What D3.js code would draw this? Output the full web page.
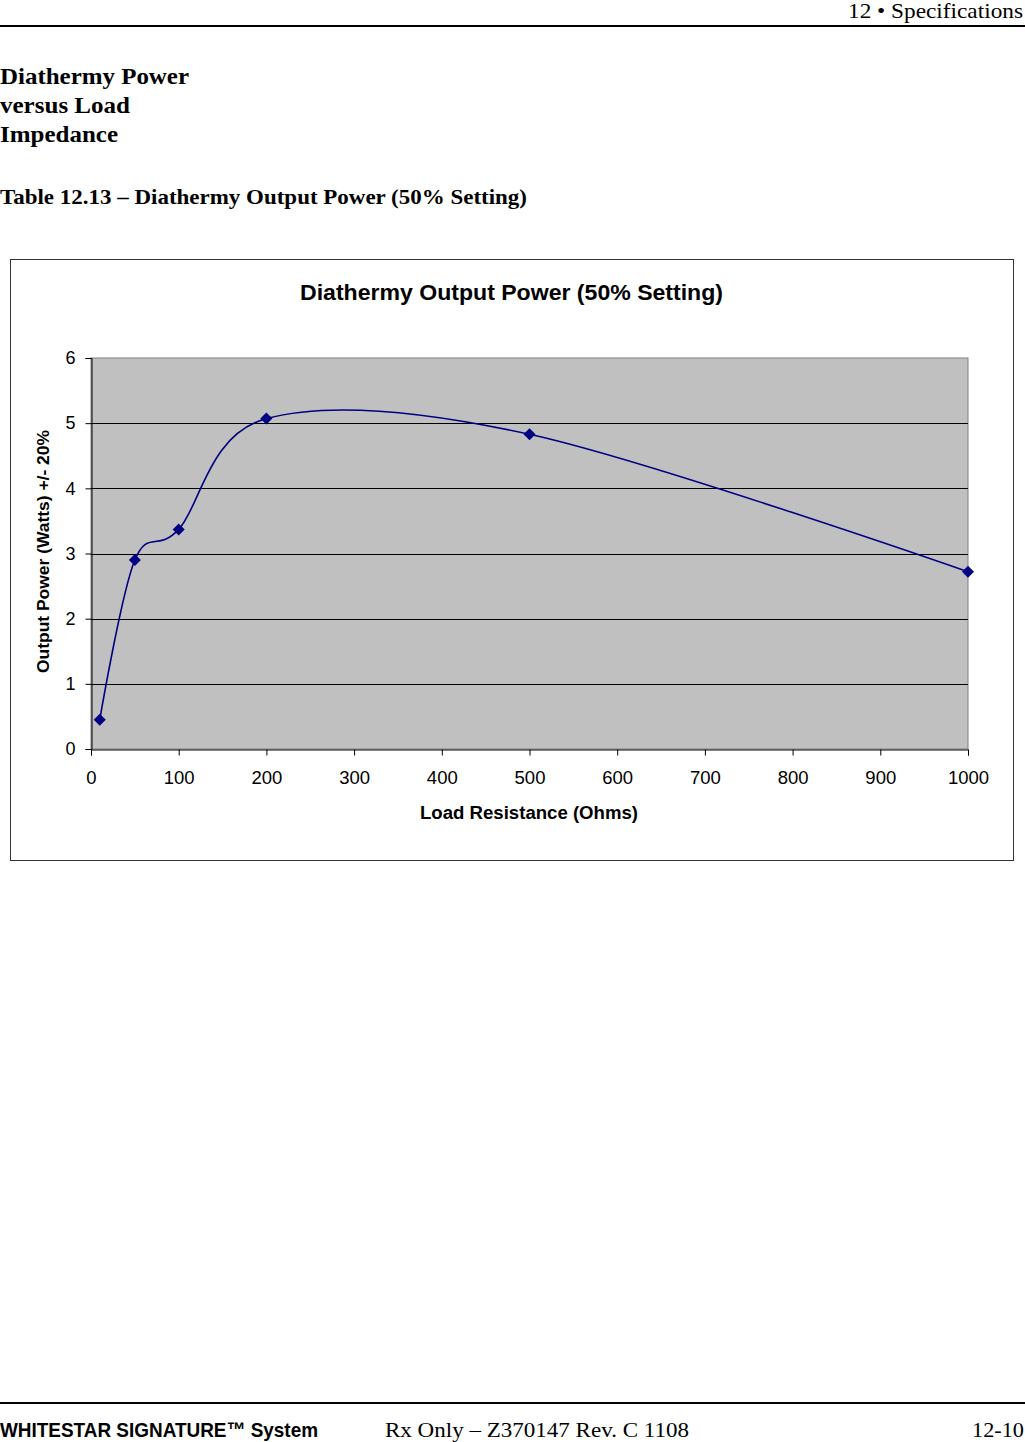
<!DOCTYPE html>
<html><head><meta charset="utf-8">
<script src="https://cdn.jsdelivr.net/npm/d3@7"></script>
<style>
html,body{margin:0;padding:0;background:#fff;}
svg{display:block;}
</style></head>
<body>
<svg id="c" width="1025" height="1442"></svg>
<script>
const loads = [10, 50, 100, 200, 500, 1000];
const powers = [0.45, 2.90, 3.37, 5.07, 4.83, 2.72];
const xTicks = [0, 100, 200, 300, 400, 500, 600, 700, 800, 900, 1000];
const yTicks = [0, 1, 2, 3, 4, 5, 6];

const svg = d3.select("#c");
const serif = "'Liberation Serif','Times New Roman',serif";
const sans = "'Liberation Sans',Arial,sans-serif";

function txt(xp, yp, s, opts) {
  const t = svg.append("text").attr("x", xp).attr("y", yp)
    .attr("font-family", opts.family).attr("font-size", opts.size).text(s);
  if (opts.bold) t.attr("font-weight", "bold");
  if (opts.anchor) t.attr("text-anchor", opts.anchor);
  if (opts.len) t.attr("textLength", opts.len).attr("lengthAdjust", "spacingAndGlyphs");
  return t;
}

// Header
txt(1023, 18, "12  • Specifications", {family: serif, size: 21, anchor: "end", len: 175});
svg.append("rect").attr("x",0).attr("y",25).attr("width",1025).attr("height",2).attr("fill","#000");

// Section heading
txt(0, 84, "Diathermy Power", {family: serif, size: 24, bold: true, len: 189});
txt(0, 113, "versus Load", {family: serif, size: 24, bold: true, len: 130});
txt(0, 142, "Impedance", {family: serif, size: 24, bold: true, len: 118});
txt(0, 204, "Table 12.13 – Diathermy Output Power (50% Setting)", {family: serif, size: 22, bold: true, len: 527});

// Chart box
svg.append("rect").attr("x",10.5).attr("y",259.5).attr("width",1003).attr("height",601)
  .attr("fill","#fff").attr("stroke","#333").attr("stroke-width",1);

txt(300, 300, "Diathermy Output Power (50% Setting)", {family: sans, size: 22, bold: true, len: 423});

const m = {l:91, r:968, t:358, b:749};
const x = d3.scaleLinear().domain([0,1000]).range([m.l,m.r]);
const y = d3.scaleLinear().domain([0,6]).range([m.b,m.t]);

svg.append("rect").attr("x",m.l).attr("y",m.t).attr("width",m.r-m.l).attr("height",m.b-m.t)
  .attr("fill","#c0c0c0").attr("stroke","#808080").attr("stroke-width",1);

// gridlines
svg.append("g").selectAll("line").data(yTicks.filter(d=>d>0 && d<6)).join("line")
  .attr("x1",m.l).attr("x2",m.r).attr("y1",d=>Math.round(y(d))+0.5).attr("y2",d=>Math.round(y(d))+0.5)
  .attr("stroke","#000").attr("stroke-width",1);

// Y axis
const ya = svg.append("g").attr("transform",`translate(${m.l+0.5},0)`)
  .call(d3.axisLeft(y).tickValues(yTicks).tickSize(6).tickPadding(10).tickFormat(d3.format("d")));
ya.select(".domain").attr("stroke","#000");
ya.selectAll(".tick line").attr("stroke","#000");
ya.selectAll("text").attr("font-family",sans).attr("font-size",18).attr("fill","#000");

// X axis
const xa = svg.append("g").attr("transform",`translate(0,${m.b+0.5})`)
  .call(d3.axisBottom(x).tickValues(xTicks).tickSize(6).tickPadding(15).tickFormat(d3.format("d")));
xa.select(".domain").attr("stroke","#000");
xa.selectAll(".tick line").attr("stroke","#000");
xa.selectAll("text").attr("font-family",sans).attr("font-size",18.5).attr("fill","#000");

// Axis titles
txt(420, 819, "Load Resistance (Ohms)", {family: sans, size: 18, bold: true, len: 218});
svg.append("text").attr("transform","translate(49,673) rotate(-90)")
  .attr("font-family",sans).attr("font-weight","bold").attr("font-size",16)
  .attr("textLength",243).attr("lengthAdjust","spacingAndGlyphs")
  .text("Output Power (Watts) +/- 20%");

// Series
const pts = loads.map((d,i)=>[d,powers[i]]);
const line = d3.line().x(d=>x(d[0])).y(d=>y(d[1])).curve(d3.curveCardinal.tension(0));
svg.append("path").datum(pts).attr("d",line).attr("fill","none")
  .attr("stroke","#000080").attr("stroke-width",1.6);
svg.append("g").selectAll("path").data(pts).join("path")
  .attr("transform",d=>`translate(${x(d[0])},${y(d[1])})`)
  .attr("d","M0,-6L6,0L0,6L-6,0Z").attr("fill","#000080");

// Footer
svg.append("rect").attr("x",0).attr("y",1402).attr("width",1025).attr("height",2).attr("fill","#000");
txt(0, 1437, "WHITESTAR SIGNATURE™ System", {family: sans, size: 21, bold: true, len: 318});
txt(385, 1437, "Rx Only – Z370147 Rev. C 1108", {family: serif, size: 22, len: 304});
txt(1024, 1437, "12-10", {family: serif, size: 22, anchor: "end", len: 52});
</script>
</body></html>
